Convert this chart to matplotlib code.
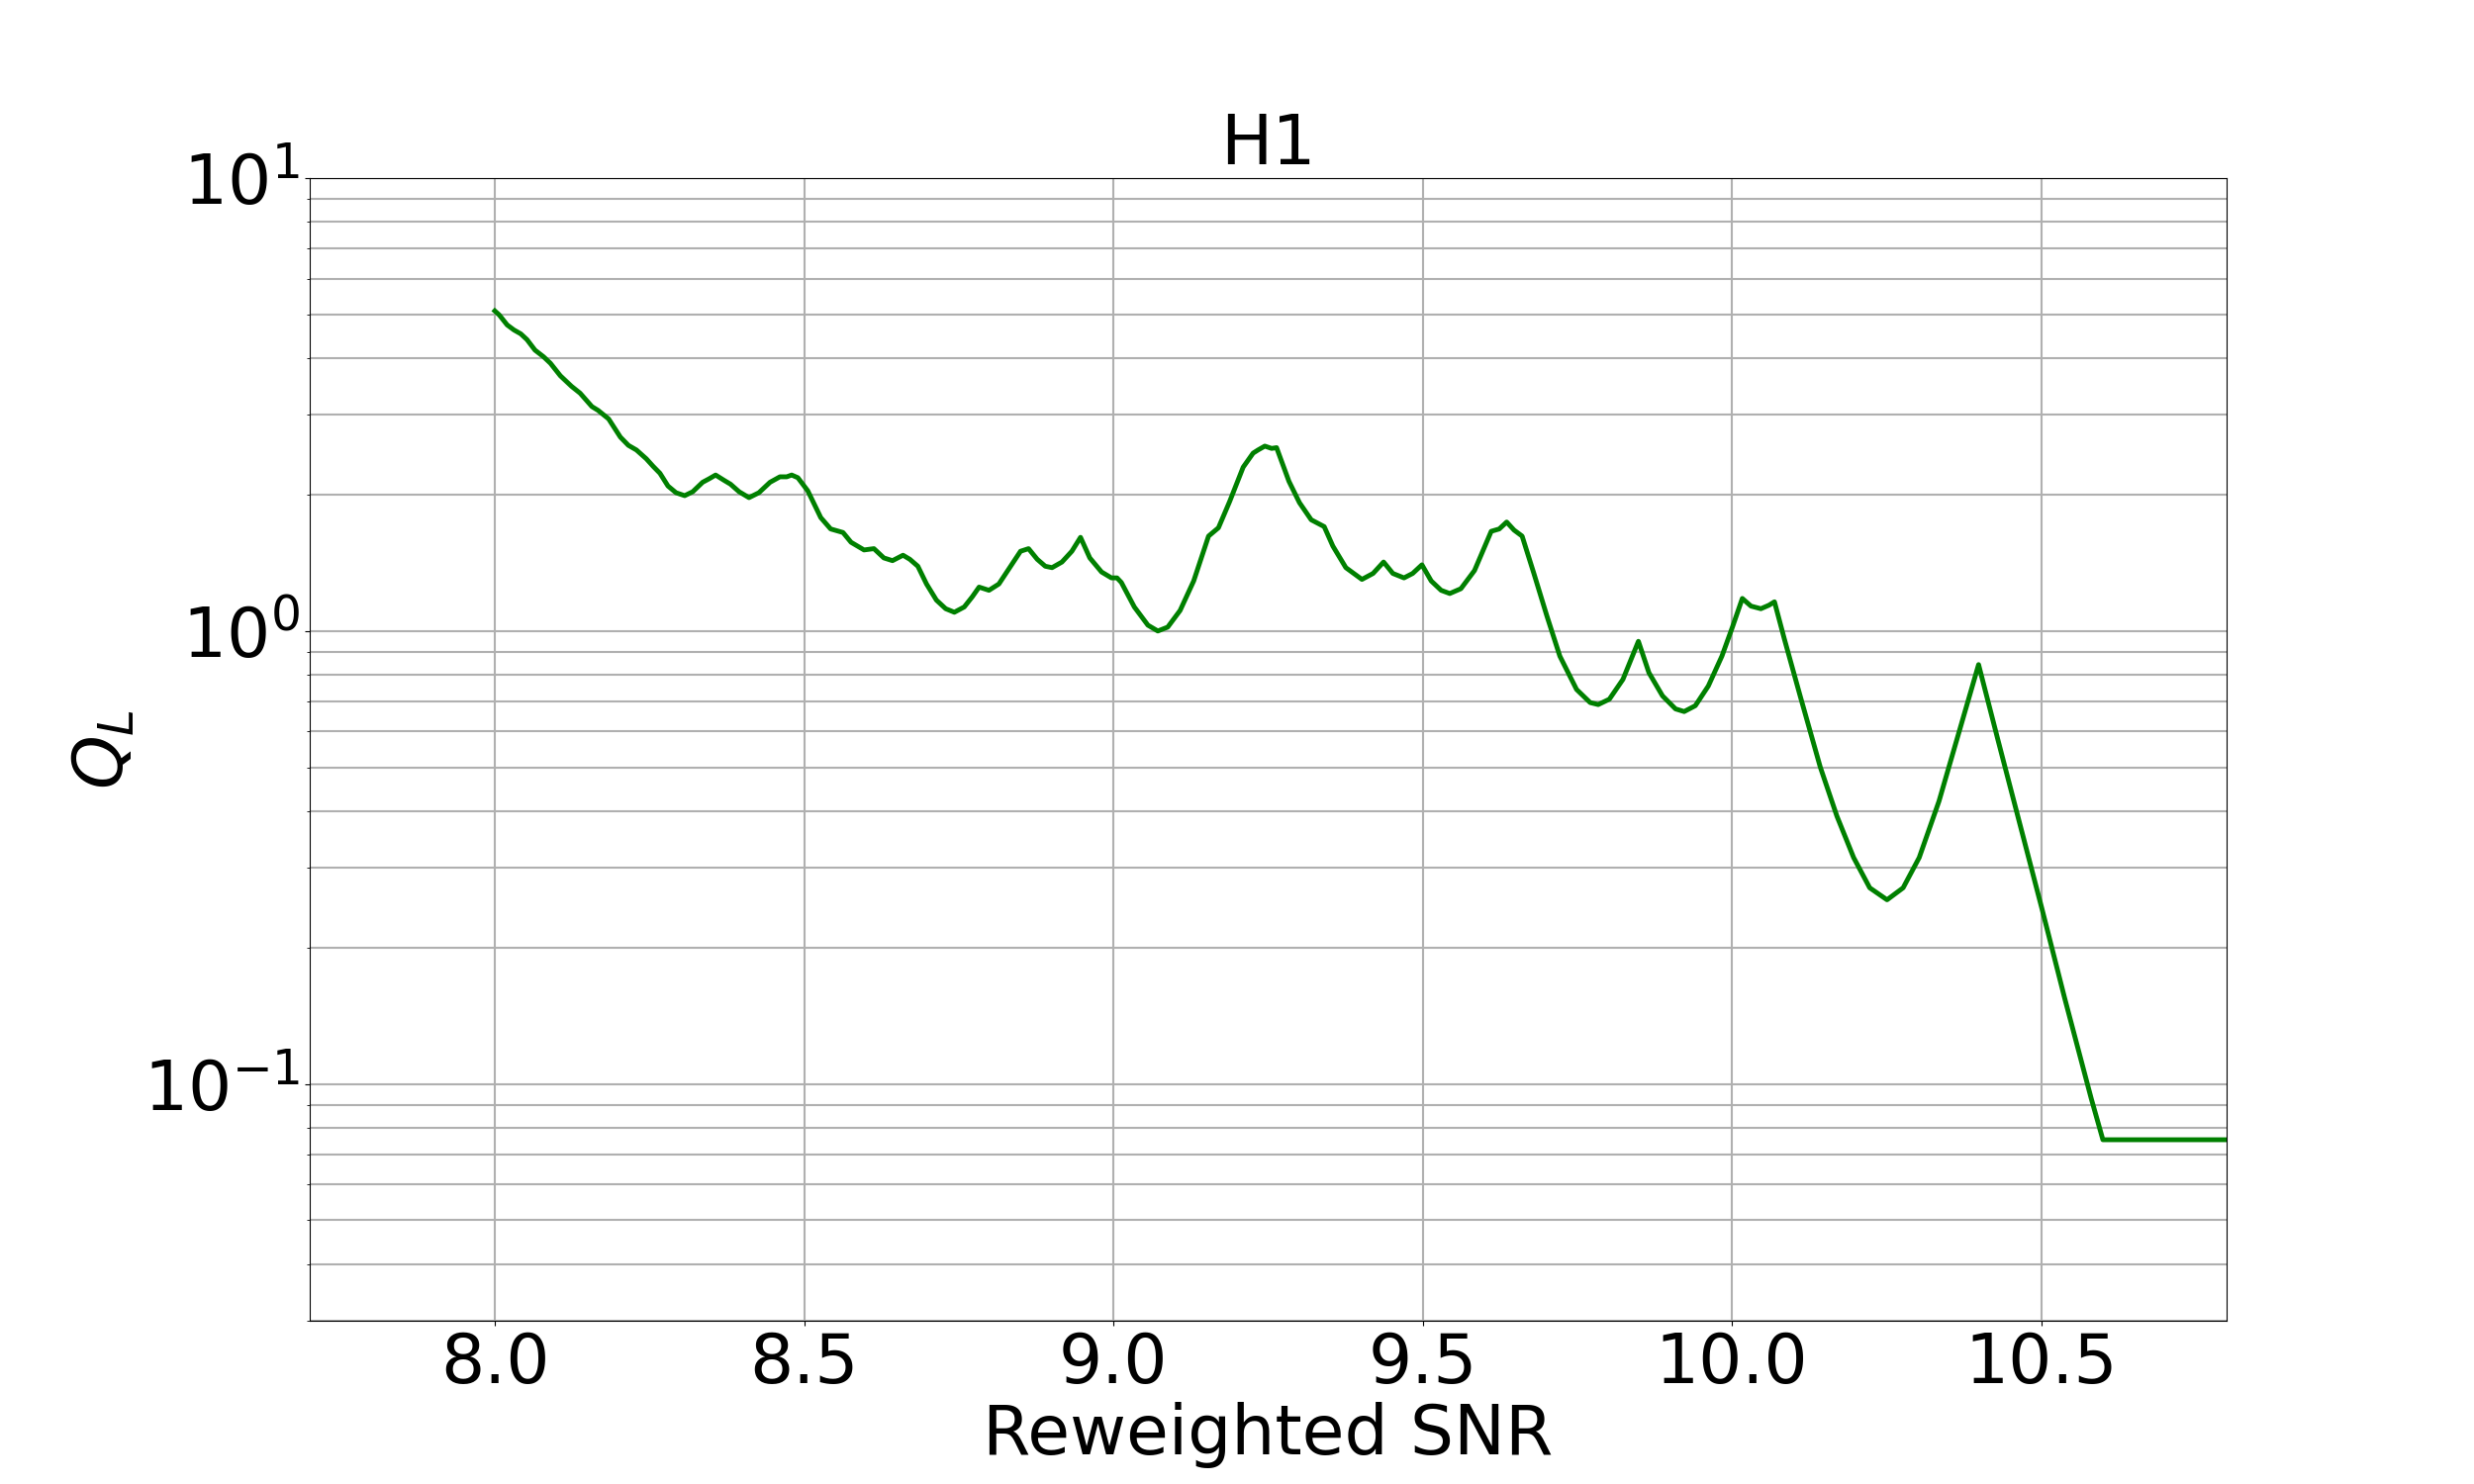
import matplotlib
matplotlib.use("Agg")
import matplotlib.pyplot as plt

# valores (SNR reponderado vs Q_L)
snr = [8.000, 8.007, 8.020, 8.031, 8.042, 8.052, 8.065, 8.079, 8.090, 8.106,
       8.124, 8.138, 8.157, 8.167, 8.184, 8.203, 8.216, 8.229, 8.245, 8.256,
       8.267, 8.280, 8.293, 8.307, 8.320, 8.336, 8.347, 8.357, 8.371, 8.381,
       8.395, 8.411, 8.427, 8.445, 8.461, 8.472, 8.480, 8.490, 8.506, 8.527,
       8.543, 8.563, 8.576, 8.597, 8.613, 8.629, 8.643, 8.660, 8.671, 8.684,
       8.698, 8.714, 8.729, 8.743, 8.759, 8.772, 8.783, 8.799, 8.815, 8.831,
       8.850, 8.863, 8.877, 8.890, 8.901, 8.917, 8.933, 8.947, 8.962, 8.981,
       8.997, 9.006, 9.013, 9.034, 9.056, 9.072, 9.088, 9.108, 9.130, 9.154,
       9.170, 9.188, 9.210, 9.226, 9.234, 9.245, 9.256, 9.264, 9.284, 9.301,
       9.320, 9.341, 9.355, 9.376, 9.402, 9.420, 9.437, 9.452, 9.470, 9.484,
       9.499, 9.514, 9.530, 9.544, 9.562, 9.584, 9.611, 9.624, 9.636, 9.648,
       9.661, 9.680, 9.701, 9.722, 9.749, 9.771, 9.784, 9.802, 9.824, 9.849,
       9.866, 9.888, 9.909, 9.923, 9.941, 9.962, 9.984, 10.001, 10.017, 10.031,
       10.047, 10.060, 10.069, 10.085, 10.111, 10.143, 10.170, 10.197, 10.223, 10.251,
       10.277, 10.303, 10.335, 10.367, 10.399, 10.431, 10.469, 10.501, 10.538, 10.581,
       10.600, 10.800]

ql = [5.09, 4.99, 4.74, 4.62, 4.53, 4.40, 4.17, 4.03, 3.90, 3.66,
      3.47, 3.35, 3.13, 3.07, 2.94, 2.68, 2.57, 2.51, 2.40, 2.31,
      2.23, 2.09, 2.02, 1.99, 2.03, 2.13, 2.17, 2.21, 2.15, 2.11,
      2.03, 1.97, 2.02, 2.13, 2.19, 2.19, 2.21, 2.18, 2.04, 1.78,
      1.68, 1.65, 1.57, 1.51, 1.52, 1.45, 1.43, 1.47, 1.44, 1.39,
      1.27, 1.17, 1.12, 1.10, 1.13, 1.19, 1.25, 1.23, 1.27, 1.37,
      1.50, 1.52, 1.44, 1.39, 1.38, 1.42, 1.50, 1.61, 1.45, 1.35,
      1.31, 1.31, 1.28, 1.13, 1.03, 1.00, 1.02, 1.11, 1.29, 1.62,
      1.69, 1.93, 2.30, 2.47, 2.51, 2.56, 2.53, 2.54, 2.14, 1.92,
      1.76, 1.70, 1.54, 1.38, 1.30, 1.34, 1.42, 1.34, 1.31, 1.34,
      1.40, 1.29, 1.23, 1.21, 1.24, 1.36, 1.66, 1.68, 1.74, 1.67,
      1.62, 1.34, 1.08, 0.88, 0.743, 0.695, 0.688, 0.707, 0.782, 0.949,
      0.809, 0.719, 0.673, 0.664, 0.684, 0.756, 0.880, 1.02, 1.18, 1.135,
      1.12, 1.14, 1.16, 0.96, 0.715, 0.501, 0.390, 0.316, 0.271, 0.255,
      0.271, 0.316, 0.421, 0.596, 0.843, 0.57, 0.36, 0.245, 0.155, 0.093,
      0.0753, 0.0753]

detector = "H1"

plt.rcParams["font.size"] = 50

fig, ax = plt.subplots(figsize=(25, 15), dpi=100)
ax.plot(snr, ql, color="g", linewidth=3.5)
ax.set_yscale("log")
ax.set_xlim(7.7, 10.8)
ax.set_ylim(0.03, 10)
ax.grid(True, which="both", linewidth=1.5)
ax.set_xlabel("Reweighted SNR")
ax.set_ylabel("$Q_L$")
ax.set_title(detector, fontsize=50)

plt.savefig("out.png")
